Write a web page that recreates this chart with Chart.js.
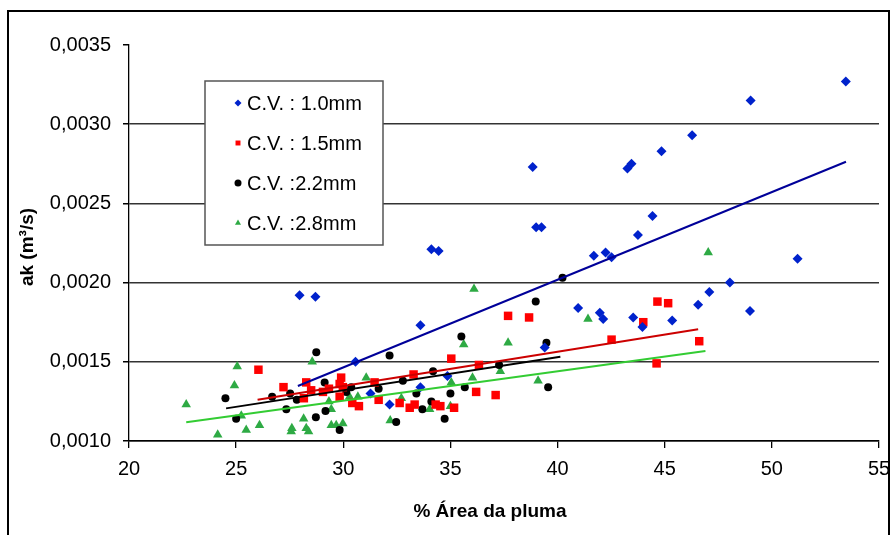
<!DOCTYPE html>
<html>
<head>
<meta charset="utf-8">
<script src="https://cdn.jsdelivr.net/npm/chart.js@4.4.0/dist/chart.umd.min.js"></script>
<style>
html, body { margin: 0; padding: 0; background: #fff; }
</style>
</head>
<body>
<canvas id="chart" width="892" height="535"></canvas>
<script>
// series labels as printed in the legend
const seriesLabels = ['C.V. : 1.0mm', 'C.V. : 1.5mm', 'C.V. :2.2mm', 'C.V. :2.8mm'];

// [% area, ak] pairs
const cv10 = [
    [27.96, 0.00192], [28.7, 0.00191], [30.57, 0.0015], [31.27, 0.0013], [32.16, 0.00123],
    [33.6, 0.00173], [33.6, 0.00134], [34.11, 0.00221], [34.45, 0.0022], [34.86, 0.00141],
    [38.84, 0.00273], [39.0, 0.00235], [39.25, 0.00235], [39.4, 0.00159], [40.96, 0.00184],
    [41.69, 0.00217], [41.97, 0.00181], [42.13, 0.00177], [42.24, 0.00219], [42.52, 0.00216],
    [43.26, 0.00272], [43.45, 0.00275], [43.53, 0.00178], [43.75, 0.0023], [43.96, 0.00172],
    [44.43, 0.00242], [44.85, 0.00283], [45.35, 0.00176], [46.28, 0.00293], [46.56, 0.00186],
    [47.08, 0.00194], [48.04, 0.002], [48.98, 0.00182], [49.01, 0.00315], [51.2, 0.00215],
    [53.45, 0.00327]
];
const cv15 = [
    [26.04, 0.00145], [27.21, 0.00134], [28.16, 0.00127], [28.27, 0.00137], [28.5, 0.00132],
    [29.05, 0.00131], [29.33, 0.00133], [29.83, 0.00136], [29.83, 0.00128], [29.9, 0.0014],
    [29.98, 0.00134], [30.42, 0.00124], [30.73, 0.00122], [31.46, 0.00137], [31.65, 0.00126],
    [32.63, 0.00124], [33.1, 0.00121], [33.28, 0.00142], [33.33, 0.00123], [34.31, 0.00123],
    [34.53, 0.00122], [35.04, 0.00152], [35.17, 0.00121], [36.2, 0.00131], [36.33, 0.00148],
    [37.11, 0.00129], [37.69, 0.00179], [38.67, 0.00178], [42.52, 0.00164], [44.0, 0.00175],
    [44.62, 0.00149], [44.66, 0.00188], [45.16, 0.00187], [46.61, 0.00163]
];
const cv22 = [
    [24.5, 0.00127], [25.0, 0.00114], [26.68, 0.00128], [27.34, 0.0012], [27.52, 0.0013],
    [27.83, 0.00126], [28.74, 0.00156], [28.72, 0.00115], [29.13, 0.00137], [29.17, 0.00119],
    [29.83, 0.00107], [30.14, 0.00131], [30.37, 0.00134], [31.65, 0.00133], [32.16, 0.00154],
    [32.47, 0.00112], [32.78, 0.00138], [33.41, 0.0013], [33.69, 0.0012], [34.11, 0.00125],
    [34.19, 0.00144], [34.73, 0.00114], [35.0, 0.0013], [35.51, 0.00166], [35.67, 0.00134],
    [37.27, 0.00148], [38.98, 0.00188], [39.48, 0.00162], [39.56, 0.00134], [40.23, 0.00203]
];
const cv28 = [
    [22.67, 0.00123], [24.14, 0.00104], [24.92, 0.00135], [25.05, 0.00147], [25.24, 0.00116],
    [25.47, 0.00107], [26.09, 0.0011], [27.57, 0.00106], [27.6, 0.00108], [28.15, 0.00114],
    [28.27, 0.00108], [28.38, 0.00106], [28.55, 0.0015], [29.33, 0.00125], [29.44, 0.0012],
    [29.44, 0.0011], [29.67, 0.0011], [29.98, 0.00111], [30.29, 0.00128], [30.68, 0.00128],
    [31.07, 0.0014], [32.19, 0.00113], [32.71, 0.00127], [34.03, 0.0012], [35.0, 0.00122],
    [35.04, 0.00137], [35.62, 0.00161], [36.03, 0.0014], [36.1, 0.00196], [37.33, 0.00144],
    [37.69, 0.00162], [39.09, 0.00138], [41.42, 0.00177], [47.03, 0.00219]
];

// linear trend lines, start and end points
const trend10 = [[27.88, 0.001347], [53.46, 0.002763]];
const trend15 = [[26.0, 0.00126], [46.56, 0.001705]];
const trend22 = [[24.53, 0.001206], [40.13, 0.001532]];
const trend28 = [[22.67, 0.001118], [46.9, 0.001568]];

const xTicks = [20, 25, 30, 35, 40, 45, 50, 55];
const yTicks = [0.0010, 0.0015, 0.0020, 0.0025, 0.0030, 0.0035];

const toXY = arr => arr.map(p => ({ x: p[0], y: p[1] }));

const colors = ['#0022cc', '#ff0000', '#000000', '#2eaa44'];
const lineColors = ['#000099', '#cc0000', '#000000', '#33cc33'];
const styles = ['rectRot', 'rect', 'circle', 'triangle'];
const radii = [5, 6, 4, 5.5];
const series = [cv10, cv15, cv22, cv28];
const trends = [trend10, trend15, trend22, trend28];

const datasets = [];
series.forEach((s, i) => {
    datasets.push({
        label: seriesLabels[i],
        data: toXY(s),
        pointStyle: styles[i],
        pointRadius: radii[i],
        backgroundColor: colors[i],
        borderColor: colors[i],
        borderWidth: 0,
        order: 1
    });
});
trends.forEach((t, i) => {
    datasets.push({
        label: 'trend' + i,
        data: toXY(t),
        showLine: true,
        pointRadius: 0,
        borderColor: lineColors[i],
        borderWidth: 2,
        fill: false,
        order: 0
    });
});

const font = '"Liberation Sans", Arial, sans-serif';

// frame, axis titles and the boxed legend
const decor = {
    id: 'decor',
    afterDraw(c) {
        const ctx = c.ctx;
        ctx.save();
        ctx.strokeStyle = '#000';
        ctx.lineWidth = 2;
        ctx.strokeRect(8, 11, 881, 540);

        ctx.fillStyle = '#000';
        ctx.font = 'bold 19px ' + font;
        ctx.textAlign = 'center';
        ctx.textBaseline = 'middle';
        ctx.fillText('% Área da pluma', 490, 512);
        ctx.save();
        ctx.translate(28, 247);
        ctx.rotate(-Math.PI / 2);
        ctx.fillText('ak (m³/s)', 0, 0);
        ctx.restore();

        ctx.fillStyle = '#fff';
        ctx.fillRect(205, 81, 178, 164);
        ctx.strokeStyle = '#555';
        ctx.lineWidth = 1.5;
        ctx.strokeRect(205, 81, 178, 164);
        ctx.font = '20px ' + font;
        ctx.textAlign = 'left';
        seriesLabels.forEach((lab, i) => {
            const y = 103 + i * 40;
            ctx.fillStyle = colors[i];
            ctx.strokeStyle = colors[i];
            Chart.helpers.drawPoint(ctx, { pointStyle: styles[i], radius: 3.5, rotation: 0, borderWidth: 0 }, 238, y);
            ctx.fillStyle = '#000';
            ctx.fillText(lab, 247, y + 1);
        });
        ctx.restore();
    }
};

new Chart(document.getElementById('chart'), {
    type: 'scatter',
    data: { datasets: datasets },
    options: {
        responsive: false,
        animation: false,
        layout: { padding: { top: 45, right: 13, bottom: 0, left: 0 } },
        plugins: {
            legend: { display: false },
            tooltip: { enabled: false }
        },
        scales: {
            x: {
                min: 20,
                max: 55,
                afterFit: s => { s.height = 94; s.paddingLeft = 0; s.paddingRight = 0; },
                afterBuildTicks: s => { s.ticks = xTicks.map(v => ({ value: v })); },
                grid: { drawOnChartArea: false, drawTicks: true, tickLength: 7, color: '#000', lineWidth: 1.3 },
                border: { display: true, color: '#000', width: 1.5 },
                ticks: { color: '#000', font: { family: font, size: 20 }, padding: 9, maxRotation: 0 }
            },
            y: {
                min: 0.001,
                max: 0.0035,
                afterFit: s => { s.width = 129; },
                afterBuildTicks: s => { s.ticks = yTicks.map(v => ({ value: v })); },
                grid: {
                    color: ctx => (ctx.tick && ctx.tick.value > 0.0034) ? 'rgba(0,0,0,0)' : '#333',
                    tickColor: '#000',
                    lineWidth: 1.5,
                    tickLength: 6
                },
                border: { display: true, color: '#000', width: 1.3 },
                ticks: {
                    color: '#000',
                    font: { family: font, size: 20 },
                    padding: 12,
                    callback: v => v.toFixed(4).replace('.', ',')
                }
            }
        }
    },
    plugins: [decor]
});
</script>
</body>
</html>
